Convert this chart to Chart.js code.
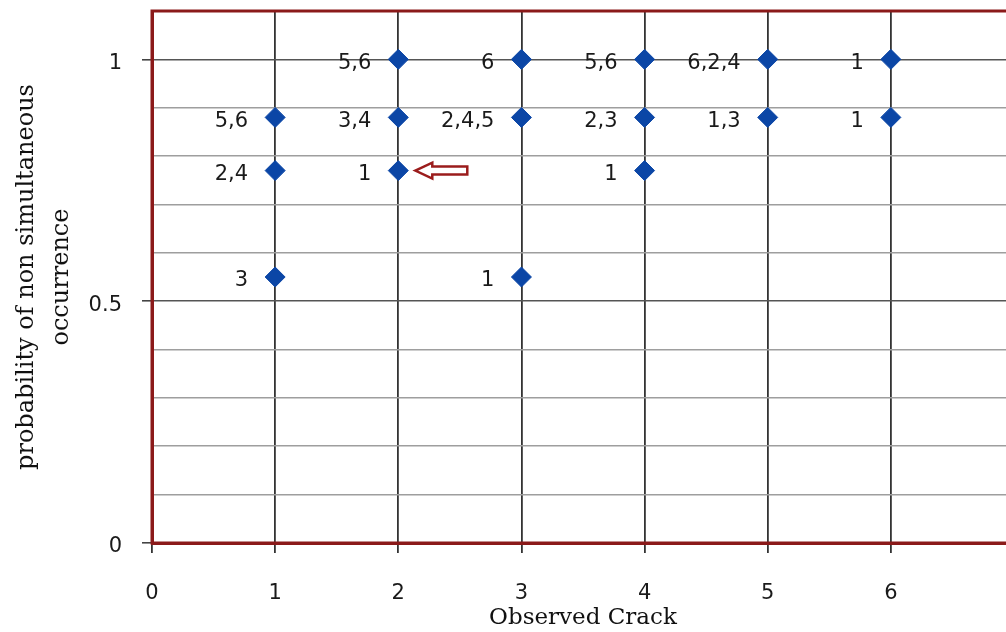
<!DOCTYPE html>
<html>
<head>
<meta charset="utf-8">
<script src="https://cdn.jsdelivr.net/npm/chart.js@4.4.1/dist/chart.umd.min.js"></script>
<style>
  html, body { margin: 0; padding: 0; overflow: hidden; background: #fff; }
  canvas { display: block; }
</style>
</head>
<body>
<canvas id="chart1" width="1025" height="632"></canvas>
<script>
// observed crack number, probability of non simultaneous occurrence, label beside each point
const crackX = [1, 1, 1, 2, 2, 2, 3, 3, 3, 4, 4, 4, 5, 5, 6, 6];
const probY = [0.88, 0.77, 0.55, 1, 0.88, 0.77, 1, 0.88, 0.55, 1, 0.88, 0.77, 1, 0.88, 1, 0.88];
const pointLabels = ['5,6', '2,4', '3', '5,6', '3,4', '1', '6', '2,4,5', '1', '5,6', '2,3', '1', '6,2,4', '1,3', '1', '1'];
const arrowAt = { x: 2, y: 0.77 }; // the point the arrow points at

const borderRed = '#8b1a1a';
const majorY = v => Math.abs(v * 2 - Math.round(v * 2)) < 1e-6;

let points = [];
for (let i = 0; i < crackX.length; i++) {
    points.push({ x: crackX[i], y: probY[i] });
}

// text left of every diamond
const pointText = {
    id: 'pointText',
    afterDatasetsDraw(chart) {
        const ctx = chart.ctx;
        const meta = chart.getDatasetMeta(0);
        ctx.save();
        ctx.font = '21px "DejaVu Sans"';
        ctx.fillStyle = '#1a1a1a';
        ctx.textAlign = 'right';
        ctx.textBaseline = 'middle';
        meta.data.forEach((el, i) => {
            ctx.fillText(pointLabels[i], el.x - 27, el.y + 4);
        });
        ctx.restore();
    }
};

// dark red frame + hollow arrow
const frameAndArrow = {
    id: 'frameAndArrow',
    beforeDatasetsDraw(chart) {
        const ctx = chart.ctx;
        const a = chart.chartArea;
        ctx.save();
        ctx.strokeStyle = borderRed;
        ctx.lineWidth = 3;
        ctx.strokeRect(a.left, a.top, a.right - a.left, a.bottom - a.top);
        ctx.restore();
    },
    afterDatasetsDraw(chart) {
        const ctx = chart.ctx;
        const px = chart.scales.x.getPixelForValue(arrowAt.x) + 17;
        const py = chart.scales.y.getPixelForValue(arrowAt.y);
        ctx.save();
        ctx.beginPath();
        ctx.moveTo(px, py);
        ctx.lineTo(px + 17, py - 8);
        ctx.lineTo(px + 17, py - 4);
        ctx.lineTo(px + 52, py - 4);
        ctx.lineTo(px + 52, py + 4);
        ctx.lineTo(px + 17, py + 4);
        ctx.lineTo(px + 17, py + 8);
        ctx.closePath();
        ctx.fillStyle = '#fff';
        ctx.fill();
        ctx.strokeStyle = '#9b1c1c';
        ctx.lineWidth = 2.5;
        ctx.stroke();
        ctx.restore();
    }
};

const ctx = document.getElementById('chart1').getContext('2d');
const chart = new Chart(ctx, {
    type: 'scatter',
    data: {
        datasets: [{
            data: points,
            pointStyle: 'rectRot',
            pointRadius: 10,
            pointHoverRadius: 10,
            backgroundColor: '#0b46a6',
            borderColor: '#0b46a6',
            borderWidth: 1
        }]
    },
    options: {
        responsive: false,
        animation: false,
        layout: { padding: { top: 10, right: 7, left: 0, bottom: 0 } },
        plugins: {
            legend: { display: false },
            tooltip: { enabled: false }
        },
        scales: {
            x: {
                type: 'linear',
                min: 0,
                max: 7,
                afterFit: s => { s.height = 89; s.paddingLeft = 0; s.paddingRight = 0; },
                ticks: {
                    stepSize: 1,
                    padding: 28,
                    color: '#1a1a1a',
                    font: { family: 'DejaVu Sans', size: 21 }
                },
                grid: {
                    color: '#333',
                    lineWidth: 1.8,
                    tickLength: 10,
                    tickColor: '#333'
                },
                border: { color: borderRed, width: 3 },
                title: {
                    display: true,
                    text: 'Observed Crack',
                    color: '#111',
                    font: { family: 'DejaVu Serif', size: 23, lineHeight: 1.2 },
                    padding: { top: 0, bottom: 0 }
                }
            },
            y: {
                min: 0,
                max: 1.1,
                afterFit: s => { s.width = 152; s.paddingTop = 0; s.paddingBottom = 0; },
                ticks: {
                    stepSize: 0.1,
                    autoSkip: false,
                    padding: 20,
                    labelOffset: 4,
                    color: '#1a1a1a',
                    font: { family: 'DejaVu Sans', size: 21 },
                    callback: v => majorY(v) && v <= 1 ? (Math.abs(v - 0.5) < 1e-6 ? '0.5' : String(Math.round(v))) : ''
                },
                grid: {
                    color: c => majorY(c.tick.value) ? '#555' : '#9e9e9e',
                    lineWidth: 1.6,
                    tickLength: 10,
                    tickColor: c => majorY(c.tick.value) ? '#444' : 'rgba(0,0,0,0)'
                },
                border: { color: borderRed, width: 3 },
                title: {
                    display: true,
                    text: ['probability of non simultaneous', 'occurrence'],
                    color: '#111',
                    font: { family: 'DejaVu Serif', size: 24, lineHeight: 1.46 },
                    padding: { top: 9, bottom: 0 }
                }
            }
        }
    },
    plugins: [frameAndArrow, pointText]
});
</script>
</body>
</html>
